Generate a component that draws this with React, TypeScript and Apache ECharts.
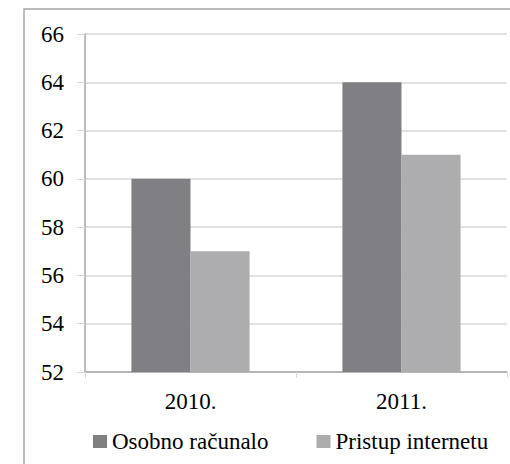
import React, { useEffect, useRef } from "react";
import * as echarts from "echarts";

const categories = ["2010.", "2011."];
const seriesNames = ["Osobno računalo", "Pristup internetu"];
const osobnoRacunalo = [60, 64];
const pristupInternetu = [57, 61];

export default function App() {
  const ref = useRef<HTMLDivElement>(null);
  useEffect(() => {
    if (!ref.current) return;
    const chart = echarts.init(ref.current, undefined, { renderer: "svg" });
    const font = "Liberation Serif";
    chart.setOption({
      animation: false,
      backgroundColor: "#ffffff",
      graphic: [
        {
          type: "rect",
          shape: { x: 24, y: 9, width: 600, height: 600 },
          style: { fill: "none", stroke: "#a6a6a6", lineWidth: 1.5 },
          silent: true,
        },
      ],
      grid: { left: 85, right: 3, top: 34, bottom: 92 },
      legend: {
        data: seriesNames,
        left: 93,
        top: 430,
        padding: 0,
        icon: "rect",
        itemWidth: 14,
        itemHeight: 13,
        itemGap: 48,
        textStyle: { fontFamily: font, fontSize: 23, color: "#000" },
      },
      xAxis: {
        type: "category",
        data: categories,
        axisLine: { lineStyle: { color: "#a6a6a6", width: 1.5 } },
        axisTick: { show: true, length: 6, lineStyle: { color: "#d9d9d9" } },
        axisLabel: { fontFamily: font, fontSize: 23, color: "#000", margin: 18 },
      },
      yAxis: {
        type: "value",
        min: 52,
        max: 66,
        interval: 2,
        axisLine: { show: true, lineStyle: { color: "#a6a6a6", width: 1.5 } },
        axisTick: { show: true, length: 8, lineStyle: { color: "#d9d9d9" } },
        splitLine: { lineStyle: { color: "#d9d9d9", width: 1.5 } },
        axisLabel: {
          fontFamily: font,
          fontSize: 23,
          color: "#000",
          margin: 21,
          padding: [7, 0, 0, 0],
        },
      },
      series: [
        {
          name: seriesNames[0],
          type: "bar",
          data: osobnoRacunalo,
          itemStyle: { color: "#807f83" },
          barGap: "0%",
          barCategoryGap: "44%",
        },
        {
          name: seriesNames[1],
          type: "bar",
          data: pristupInternetu,
          itemStyle: { color: "#adadb0" },
          barGap: "0%",
          barCategoryGap: "44%",
        },
      ],
    });
    return () => chart.dispose();
  }, []);
  return (
    <div
      ref={ref}
      style={{ position: "fixed", left: 0, top: 0, width: 510, height: 464 }}
    />
  );
}
